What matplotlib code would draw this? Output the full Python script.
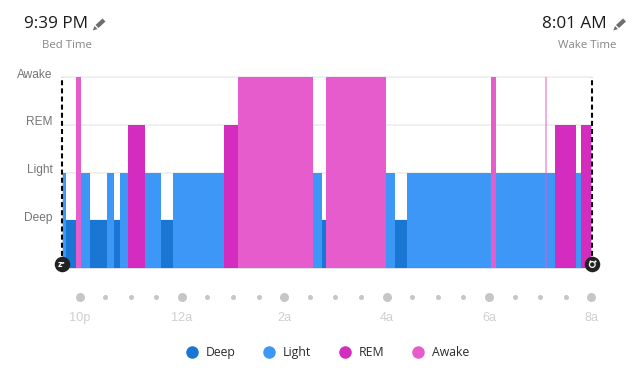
import matplotlib
matplotlib.use("Agg")
import matplotlib.pyplot as plt
from matplotlib.lines import Line2D
from matplotlib.patches import Polygon
from matplotlib.transforms import blended_transform_factory

W, H = 640, 372

# minutes relative to 10 PM
boundaries = [-21, -16, -4, 2, 12.3, 32.2, 41, 47.5, 57.4, 77.3, 95.5, 109, 169.3, 186.1,
              274, 284.2, 288.9, 358.8, 369.4, 384.1, 482.2, 488.1, 545.5, 547.9, 557.2,
              581.8, 587.3, 601]
stages = ["Light", "Deep", "Awake", "Light", "Deep", "Light", "Deep", "Light", "REM", "Light",
          "Deep", "Light", "REM", "Awake", "Light", "Deep", "Awake", "Light", "Deep", "Light",
          "Awake", "Light", "Awake", "Light", "REM", "Light", "REM"]
faint_segments = [22]
stage_names = ["Deep", "Light", "REM", "Awake"]
stage_colors = ["#1976D3", "#3D97F6", "#D42CBE", "#E65CCC"]
hour_labels = ["10p", "12a", "2a", "4a", "6a", "8a"]
hour_ticks = [0, 120, 240, 360, 480, 600]
minor_ticks = [30, 60, 90, 150, 180, 210, 270, 300, 330, 390, 420, 450, 510, 540, 570]
bed_time, wake_time = "9:39 PM", "8:01 AM"

SANS = "Open Sans"
LABEL = "Liberation Sans"


def fx(px):
    return px / W


def fy(py):
    return 1 - py / H


fig = plt.figure(figsize=(W / 100, H / 100), dpi=100, facecolor="white")
PX0, PX1 = 61.6, 592.3
PY0, PY1 = 268.3, 76.7
ax = fig.add_axes([fx(PX0), fy(PY0), (PX1 - PX0) / W, (PY0 - PY1) / H])
ax.set_xlim(-21, 601)
ax.set_ylim(0, 4)
ax.axis("off")

levels = {n: i + 1 for i, n in enumerate(stage_names)}
colors = dict(zip(stage_names, stage_colors))

for y in [1, 2, 3, 4]:
    ax.axhline(y, color="#ececec", lw=1.1, zorder=1, clip_on=False)
ax.axhline(0, color="#d5dcec", lw=1.2, zorder=1, clip_on=False)

for i, st in enumerate(stages):
    left, width = boundaries[i], boundaries[i + 1] - boundaries[i]
    if i in faint_segments:
        ax.bar(left, levels["Light"], width=width, align="edge", color=colors["Light"], lw=0, zorder=2)
    ax.bar(left, levels[st], width=width, align="edge",
           color=colors[st], alpha=0.5 if i in faint_segments else 1.0, lw=0, zorder=2)

# bed / wake markers
for t in (-21, 601):
    ax.plot([t, t], [0.1, 4], color="white", lw=1.5, alpha=0.7, zorder=3, clip_on=False)
    ax.plot([t, t], [0.1, 4], color="black", lw=1.5, dashes=(2.4, 1.5), zorder=4, clip_on=False)

# time axis dots and labels
tr = blended_transform_factory(ax.transData, fig.transFigure)
ax.scatter(hour_ticks, [fy(296.5)] * len(hour_ticks), s=42, color="#c6c6c6", lw=0,
           transform=tr, clip_on=False)
ax.scatter(minor_ticks, [fy(296.5)] * len(minor_ticks), s=13, color="#c6c6c6", lw=0,
           transform=tr, clip_on=False)
for t, lab in zip(hour_ticks, hour_labels):
    ax.text(t, fy(318), lab, transform=tr, ha="center", va="center", fontsize=9.2,
            color="#cfcfcf", family=LABEL)

# y labels
for name, py in zip(stage_names, [217.5, 170, 122, 74.5]):
    fig.text(fx(52.5), fy(py), name, ha="right", va="center", fontsize=8.6,
             color="#757575", family=LABEL)

# header
fig.text(fx(55.5), fy(24.5), bed_time, ha="center", va="center", fontsize=12.3, color="#1c1c1c", family=SANS)
fig.text(fx(67), fy(45.5), "Bed Time", ha="center", va="center", fontsize=8.2, color="#858585", family=SANS)
fig.text(fx(607), fy(24.5), wake_time, ha="right", va="center", fontsize=12.3, color="#1c1c1c", family=SANS)
fig.text(fx(616), fy(45.5), "Wake Time", ha="right", va="center", fontsize=8.2, color="#858585", family=SANS)


def pencil(dx):
    shaft = [(95.5, 25), (102.5, 18.5), (105.5, 21.5), (98.5, 28)]
    tip = [(94.5, 26), (97.5, 29), (92.8, 30.5)]
    for poly in (shaft, tip):
        fig.add_artist(Polygon([(fx(x + dx), fy(y)) for x, y in poly], closed=True,
                               transform=fig.transFigure, fc="#6e6e6e", ec="none"))


pencil(0)
pencil(520.5)

# end-point badges
for t in (-21, 601):
    ax.scatter([t], [fy(264)], s=125, color="#222222", lw=0, transform=tr, clip_on=False, zorder=6)
ax.text(-21.3, fy(264.2), "zᶻ", transform=tr, ha="center", va="center", fontsize=5.5,
        color="white", fontweight="bold", family="DejaVu Sans", zorder=7)
ax.scatter([601], [fy(264.5)], s=17, facecolor="none", edgecolor="white", lw=0.9, transform=tr,
           clip_on=False, zorder=7)
ax.scatter([597.8, 604.2], [fy(260.8)] * 2, s=2.2, color="white", lw=0, transform=tr,
           clip_on=False, zorder=7)

# legend
handles = [Line2D([], [], ls="", marker="o", ms=9, mfc=c, mec="none", label=n)
           for n, c in zip(stage_names, stage_colors)]
fig.legend(handles=handles, ncol=4, loc="center", bbox_to_anchor=(fx(327.5), fy(352.5)), frameon=False,
           prop={"family": SANS, "size": 8.8}, labelcolor="#2a2a2a", handlelength=1.0,
           handletextpad=0.65, columnspacing=2.25, borderpad=0, borderaxespad=0)

fig.savefig("out.png", dpi=100)
